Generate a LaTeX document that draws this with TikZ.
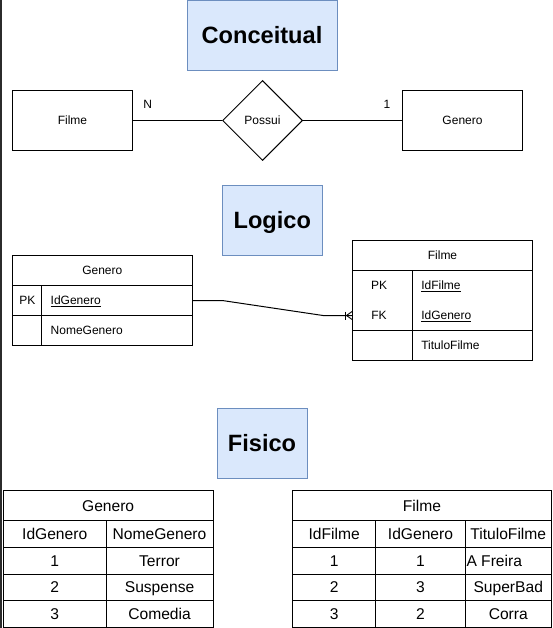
\documentclass[tikz,border=0pt]{standalone}
\usepackage{fontspec}
\setmainfont{Liberation Sans}
\usetikzlibrary{shapes.geometric}
\definecolor{tfill}{HTML}{DAE8FC}
\definecolor{tdraw}{HTML}{6C8EBF}
\definecolor{stripcol}{HTML}{2B2B2B}
\newcommand\fsa{\fontsize{12}{14}\selectfont}
\newcommand\fsb{\fontsize{15.6}{18}\selectfont}
\tikzset{
  ttl/.style={draw=tdraw, fill=tfill, inner sep=0pt, font=\fontsize{23.6}{28}\selectfont\bfseries, text height=17pt, text depth=0pt},
  ent/.style={draw, inner sep=0pt, minimum width=120pt, minimum height=60pt, font=\fsa, text height=8.6pt, text depth=0pt},
  lbl/.style={inner sep=0pt, font=\fsa, text height=8.6pt, text depth=0pt},
  rowbox/.style={draw, inner sep=0pt, minimum width=180pt, minimum height=30pt, font=\fsa, text height=8.6pt, text depth=0pt},
  fcell/.style={draw, inner sep=0pt, minimum height=26.75pt, font=\fsb, text height=11.2pt, text depth=0pt},
  ftxt/.style={inner sep=0pt, font=\fsb, text height=11.2pt, text depth=0pt},
}
\begin{document}
\begin{tikzpicture}[x=1pt,y=-1pt,line width=1pt]
\useasboundingbox (0,0) rectangle (552,628);
\fill[stripcol] (0,0) rectangle (2.3,628);

% ---------- Conceitual ----------
\node[ttl, minimum width=150pt, minimum height=70pt] (tC) at (262,35.5) {Conceitual};
\node[ent] (cFilme) at (72.5,120.5) {Filme};
\node[ent] (cGenero) at (462.5,120.5) {Genero};
\node[draw, diamond, aspect=1, inner sep=0pt, minimum width=80pt, minimum height=80pt, font=\fsa, text height=8.6pt, text depth=0pt] (cPossui) at (262.5,120.5) {Possui};
\draw (cFilme) -- (cPossui);
\draw (cPossui) -- (cGenero);
\node[lbl] (cN) at (147.8,104.5) {N};
\node[lbl] (cOne) at (387,104.5) {1};

% ---------- Logico ----------
\node[ttl, minimum width=100pt, minimum height=70pt] (tL) at (272.3,220.3) {Logico};

\node[rowbox] (lgHead) at (102.3,270.5) {Genero};
\node[rowbox] (lgPK) at (102.3,300.5) {};
\node[rowbox] (lgNome) at (102.3,330.5) {};
\draw ([xshift=30pt]lgPK.north west) -- ([xshift=30pt]lgNome.south west);
\node[lbl] (lgPKt) at (27.3,300.5) {PK};
\node[lbl, anchor=west] (lgId) at (50.2,300.5) {\underline{IdGenero}};
\node[lbl, anchor=west] (lgNm) at (50.2,330.5) {NomeGenero};

\node[rowbox] (lfHead) at (442.5,255.5) {Filme};
\node[rowbox, minimum height=60pt] (lfKeys) at (442.5,300.5) {};
\node[rowbox] (lfTit) at (442.5,345.5) {};
\draw ([xshift=60pt]lfKeys.north west) -- ([xshift=60pt]lfTit.south west);
\node[lbl] (lfPKt) at (379,285.5) {PK};
\node[lbl] (lfFKt) at (379,315.5) {FK};
\node[lbl, anchor=west] (lfId) at (420.8,285.5) {\underline{IdFilme}};
\node[lbl, anchor=west] (lfIdG) at (420.8,315.5) {\underline{IdGenero}};
\node[lbl, anchor=west] (lfTt) at (420.8,345.5) {TituloFilme};
\coordinate (lfFK) at (352.5,315.5);

\draw (lgPK.east) -- ([xshift=29.4pt]lgPK.east) -- ([xshift=-29.5pt]lfFK) -- (lfFK);
\draw[line width=0.9pt] ([xshift=-7.5pt,yshift=4pt]lfFK) -- ([xshift=-7.5pt,yshift=-4pt]lfFK);
\draw[line width=0.9pt] ([yshift=4.3pt]lfFK) -- ([xshift=-6pt]lfFK) -- ([yshift=-4.3pt]lfFK);

% ---------- Fisico ----------
\node[ttl, minimum width=90pt, minimum height=70pt] (tF) at (262,443.3) {Fisico};

\node[fcell, minimum width=209.7pt, minimum height=30pt, anchor=north west] (fgH) at (2.8,490) {Genero};
\foreach \r/\a/\b in {0/IdGenero/NomeGenero,1/1/Terror,2/2/Suspense,3/3/Comedia}{
  \node[fcell, minimum width=102.8pt, anchor=north west] (fg\r a) at (2.8,{520+26.75*\r}) {\a};
  \node[fcell, minimum width=106.9pt, anchor=north west] (fg\r b) at (105.6,{520+26.75*\r}) {\b};
}

\node[fcell, minimum width=259pt, minimum height=30pt, anchor=north west] (ffH) at (292,490) {Filme};
\foreach \r/\a/\b in {0/IdFilme/IdGenero,1/1/1,2/2/3,3/3/2}{
  \node[fcell, minimum width=83.4pt, anchor=north west] (ff\r a) at (292,{520+26.75*\r}) {\a};
  \node[fcell, minimum width=89.1pt, anchor=north west] (ff\r b) at (375.4,{520+26.75*\r}) {\b};
  \node[fcell, minimum width=86.5pt, anchor=north west] (ff\r c) at (464.5,{520+26.75*\r}) {};
}
\node[ftxt] (ffT0) at (ff0c) {TituloFilme};
\node[ftxt, anchor=west] (ffT1) at ([xshift=1.5pt]ff1c.west) {A Freira};
\node[ftxt] (ffT2) at (ff2c) {SuperBad};
\node[ftxt] (ffT3) at (ff3c) {Corra};
\end{tikzpicture}
\end{document}
